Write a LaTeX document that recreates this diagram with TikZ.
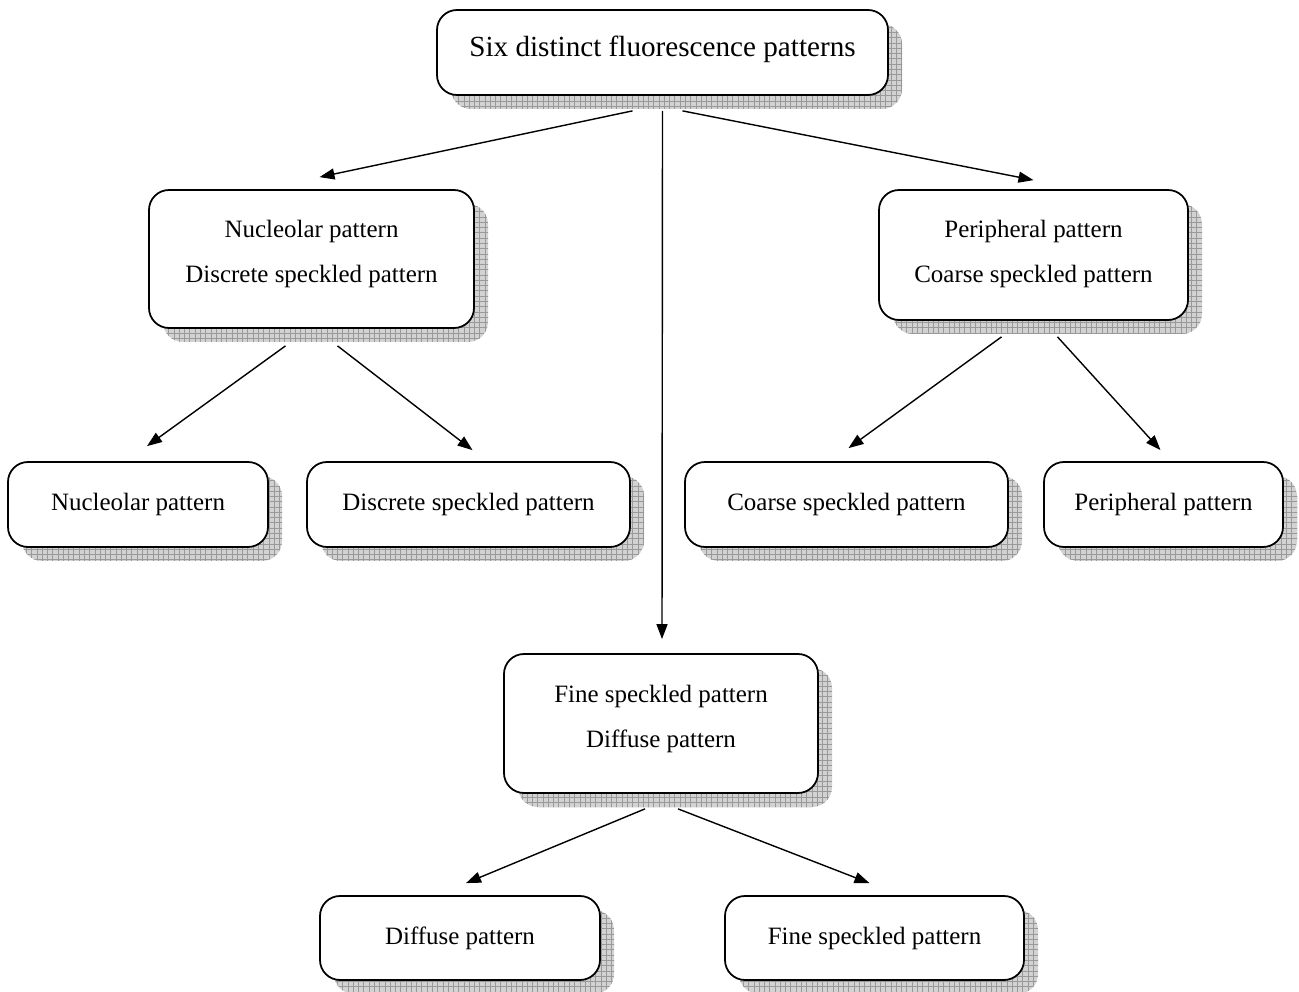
\documentclass[tikz,border=0pt]{standalone}
\usepackage{fontspec}
\setmainfont{Liberation Serif}
\usetikzlibrary{arrows.meta,shadows,patterns,calc}
\tikzset{
  pbox/.style={draw, line width=1pt, rounded corners=4mm, fill=white, align=center,
    font=\fontsize{14.2}{25.6}\selectfont, minimum height=17mm,
    drop shadow={shadow xshift=2.8mm, shadow yshift=-2.8mm, fill=gray!35, opacity=1,
      postaction={pattern=grid, pattern color=gray!80}}},
  arr/.style={-{Triangle[length=3mm,width=2.2mm]}, line width=0.8pt}
}
\begin{document}
\begin{tikzpicture}[x=0.2mm, y=-0.2mm]
  \useasboundingbox (0,0) rectangle (1299,992);
  % top level
  \node[pbox, minimum width=90.2mm, font=\fontsize{16.6}{20}\selectfont] (six) at (662.5,52.5) {Six distinct fluorescence patterns\\[-19pt]\strut};
  % second level
  \node[pbox, minimum width=65mm, minimum height=27.6mm] (nucdisc) at (311.5,259) {Nucleolar pattern\\Discrete speckled pattern\\[-25pt]\strut};
  \node[pbox, minimum width=61.8mm, minimum height=26mm] (pericoarse) at (1033.5,255) {Peripheral pattern\\Coarse speckled pattern\\[-29.5pt]\strut};
  \node[pbox, minimum width=62.8mm, minimum height=27.8mm] (finediff) at (661,723.5) {Fine speckled pattern\\Diffuse pattern\\[-25pt]\strut};
  % leaves
  \node[pbox, minimum width=52mm] (nuc) at (138,504.5) {Nucleolar pattern};
  \node[pbox, minimum width=64.6mm] (disc) at (468.5,504.5) {Discrete speckled pattern};
  \node[pbox, minimum width=64.6mm] (coarse) at (846.5,504.5) {Coarse speckled pattern};
  \node[pbox, minimum width=47.8mm] (peri) at (1163.5,504.5) {Peripheral pattern};
  \node[pbox, minimum width=56mm, minimum height=16.8mm] (diff) at (460,938) {Diffuse pattern};
  \node[pbox, minimum width=59.8mm, minimum height=16.8mm] (fine) at (874.5,938) {Fine speckled pattern};
  % arrows
  \draw[arr] ($(six.south)+(-30,15)$) -- ($(nucdisc.north)+(8,-12)$);
  \draw[arr] ($(six.south)+(0,15)$) -- ($(finediff.north)+(1,-14)$);
  \draw[arr] ($(six.south)+(20,15)$) -- ($(pericoarse.north)+(0,-9)$);
  \draw[arr] ($(nucdisc.south)+(-26,17)$) -- ($(nuc.north)+(9,-15)$);
  \draw[arr] ($(nucdisc.south)+(26,17)$) -- ($(disc.north)+(4,-11)$);
  \draw[arr] ($(pericoarse.south)+(-32,16)$) -- ($(coarse.north)+(2,-13)$);
  \draw[arr] ($(pericoarse.south)+(24,16)$) -- ($(peri.north)+(-3,-11)$);
  \draw[arr] ($(finediff.south)+(-16,15)$) -- ($(diff.north)+(6,-12)$);
  \draw[arr] ($(finediff.south)+(17,15)$) -- ($(fine.north)+(-5,-12)$);
\end{tikzpicture}
\end{document}
